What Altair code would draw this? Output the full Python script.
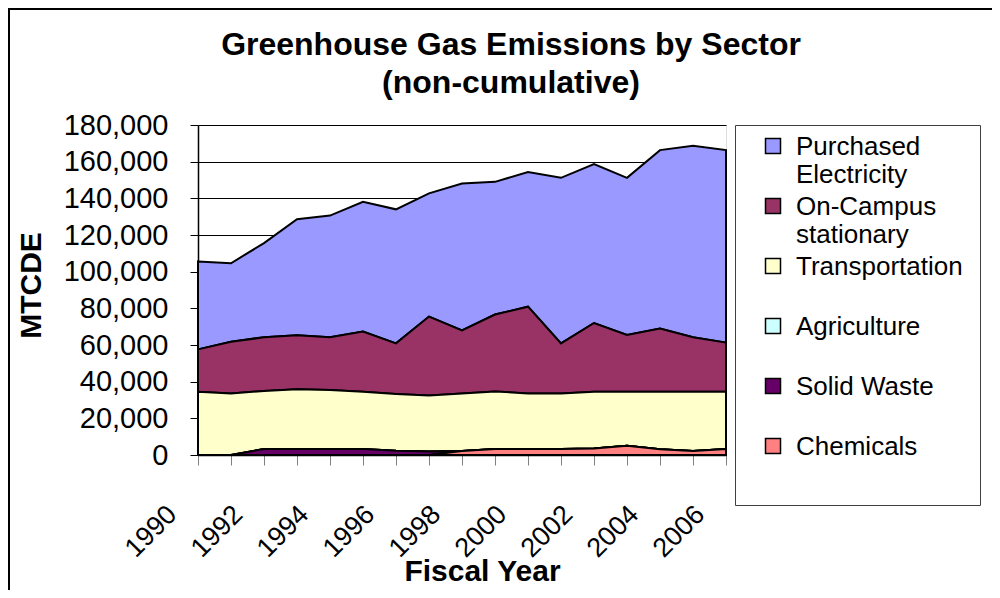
import altair as alt
import pandas as pd

years = [1990, 1991, 1992, 1993, 1994, 1995, 1996, 1997, 1998,
         1999, 2000, 2001, 2002, 2003, 2004, 2005, 2006]

purchased_electricity = [48000, 42800, 51400, 63300, 66400, 70800, 73100, 67200, 80200,
                         72400, 73500, 90300, 86700, 85700, 97300, 104500, 105000]
on_campus_stationary = [23100, 28200, 29300, 29500, 28700, 32800, 27600, 43100, 34300,
                        41900, 47300, 27300, 37500, 31000, 34500, 29700, 26800]
transportation = [34500, 33600, 31600, 32500, 32200, 31200, 31000, 30500, 31400,
                  31400, 30300, 30300, 30900, 29500, 31400, 32300, 31200]
agriculture = [0, 0, 0, 0, 0, 0, 0, 0, 0, 0, 0, 0, 0, 0, 0, 0, 0]
solid_waste = [0, 0, 3300, 3300, 3300, 3300, 2300, 1900, 0,
               0, 0, 0, 0, 0, 0, 0, 0]
chemicals = [0, 0, 0, 0, 0, 0, 0, 0, 2200,
             3300, 3300, 3300, 3600, 5000, 3100, 2200, 3300]

series_names = ["Purchased Electricity", "On-Campus stationary", "Transportation",
                "Agriculture", "Solid Waste", "Chemicals"]
series_colors = ["#9999FF", "#993366", "#FFFFCC", "#CCFFFF", "#660066", "#FF8080"]
series_values = [purchased_electricity, on_campus_stationary, transportation,
                 agriculture, solid_waste, chemicals]
y_ticks = [0, 20000, 40000, 60000, 80000, 100000, 120000, 140000, 160000, 180000]
year_labels = [1990, 1992, 1994, 1996, 1998, 2000, 2002, 2004, 2006]

rows = []
for idx, (name, vals) in enumerate(zip(series_names, series_values)):
    for yr, v in zip(years, vals):
        rows.append({"year": yr, "sector": name, "value": v,
                     "k": len(series_names) - 1 - idx})
df = pd.DataFrame(rows)

FONT = "Liberation Sans"
label_even = "indexof(" + str(year_labels) + ", datum.value) >= 0 ? datum.label : ''"

areas = alt.Chart(df).mark_area(
    stroke="black", strokeWidth=2, opacity=1, interpolate="linear"
).encode(
    x=alt.X("year:Q",
            scale=alt.Scale(domain=[1990, 2006], nice=False, zero=False),
            axis=alt.Axis(values=years, format="d", labelExpr=label_even,
                          labelAngle=-45, labelAlign="right", labelBaseline="middle",
                          labelOffset=-26, labelPadding=45, labelFontSize=27,
                          labelFont=FONT, labelColor="black",
                          tickSize=10, tickColor="#808080", domainColor="black",
                          domainWidth=1.5, grid=False,
                          title="Fiscal Year", titleFont=FONT, titleFontSize=30,
                          titleFontWeight="bold", titleColor="black",
                          titleX=284, titleY=125, titleBaseline="alphabetic",
                          titleAlign="center")),
    y=alt.Y("value:Q", stack="zero",
            scale=alt.Scale(domain=[0, 180000], nice=False),
            axis=alt.Axis(values=y_ticks, format=",d", tickSize=8, labelPadding=22,
                          labelFontSize=29, labelFont=FONT, labelColor="black",
                          tickColor="black", domainColor="black", domainWidth=1.5,
                          grid=True, gridColor="black", gridWidth=1, gridOpacity=1,
                          title="MTCDE", titleFont=FONT, titleFontSize=30,
                          titleFontWeight="bold", titleColor="black",
                          titleAngle=-90, titleX=-158, titleY=160,
                          titleBaseline="alphabetic", titleAlign="center")),
    color=alt.Color("sector:N",
                    scale=alt.Scale(domain=series_names, range=series_colors),
                    legend=alt.Legend(
                        orient="none", legendX=537, legendY=0, title=None,
                        labelFont=FONT, labelFontSize=26, labelColor="black",
                        labelLimit=400, labelBaseline="alphabetic",
                        labelExpr="indexof(datum.label, 'Purchased') >= 0 || indexof(datum.label, 'On-Campus') >= 0 ? split(datum.label, ' ') : [datum.label, '']",
                        labelOffset=10, symbolOffset=8,
                        symbolType="M-1,-2.2H1V-0.2H-1Z", symbolSize=225,
                        symbolStrokeColor="black", symbolStrokeWidth=1.5,
                        symbolOpacity=1, rowPadding=6,
                        padding=17, strokeColor="#404040", fillColor="white")),
    order=alt.Order("k:Q", sort="ascending"),
)

frame = alt.Chart(pd.DataFrame({"a": [0]})).mark_rect(
    fillOpacity=0, stroke="black", strokeWidth=2
).encode(
    x=alt.value(-189), x2=alt.value(900), y=alt.value(-116), y2=alt.value(700)
)

chart = alt.layer(areas, frame).properties(
    width=528, height=330,
    title=alt.TitleParams(
        text=["Greenhouse Gas Emissions by Sector", "(non-cumulative)"],
        font=FONT, fontSize=32, fontWeight="bold", color="black",
        anchor="middle", dx=49, dy=102, offset=10, lineHeight=38),
    autosize=alt.AutoSizeParams(type="none"),
    padding={"left": 190, "top": 117, "right": 266, "bottom": 135},
).configure_view(
    fill="#C0C0C0", stroke="#808080", strokeWidth=1
).configure(background="white")

chart.save("out.html", embed_options={"renderer": "svg", "actions": False})
